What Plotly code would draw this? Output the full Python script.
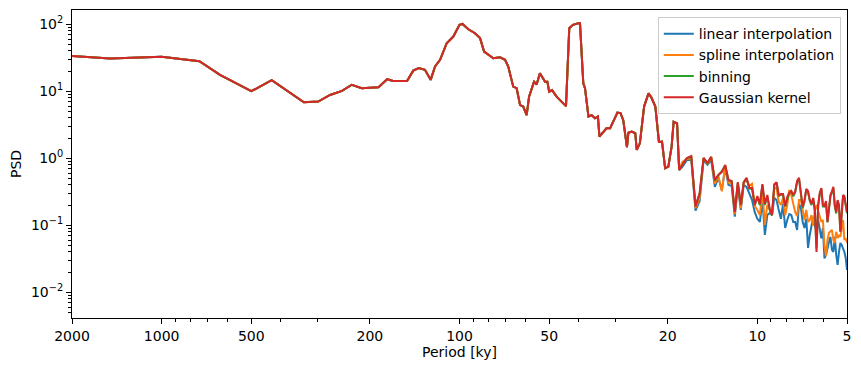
import math
import plotly.graph_objects as go

# ---- data ----
# shared low-frequency part (all four methods agree here)
period_common = [2000, 1491, 1000, 747, 637, 500, 427, 333, 298, 272, 248, 230, 213, 187,
                 175, 167, 150, 143, 137, 130.6, 125, 120.8, 116.2, 110.4, 104.9, 100, 97.7,
                 93.4, 88.7, 85.3, 82.7, 77, 73.1, 70.3, 68.6, 66, 64.3, 62.6, 61.1, 59.5,
                 58.4, 56.2, 55.1, 53.7, 51.6, 50.7, 50, 48.9, 47.2, 45.4, 43.9, 42.8, 41.6,
                 39.9, 39.4, 38.4, 37.9, 36.9, 36, 35.1, 34.3, 33.9, 32.7, 32.1, 31.2, 30.3,
                 29.5, 28.8, 28.2, 27.4, 27.1, 26.4, 25.7, 25.4, 24.8, 24.0, 23.2, 22.7, 22.0,
                 21.4, 20.9, 20.4, 19.9, 19.4, 19.1, 18.6, 18.3]
psd_common = [33.6, 30.7, 32.8, 28.0, 17.5, 10.0, 14.6, 6.85, 7.0, 8.8, 10.1, 12.5, 11.1, 11.5,
              15.1, 14.2, 14.2, 20.3, 22.2, 20.9, 14.8, 23.4, 29.4, 52, 65.5, 98, 101,
              84, 73.5, 62, 39, 31, 32, 29.4, 23.4, 11.7, 11.1, 6.2, 5.9, 4.4,
              8.3, 13.9, 12.6, 18.6, 13.9, 13.9, 9.85, 10.4, 8.3, 7.0, 6.0, 87, 98,
              103, 103, 13.1, 11.1, 4.2, 4.4, 3.95, 4.2, 2.1, 2.5, 2.8, 2.8, 3.7,
              4.8, 4.7, 3.7, 1.46, 2.4, 2.5, 2.36, 1.33, 1.67, 5.9, 9.3, 8.1, 5.9,
              1.75, 1.77, 0.71, 0.75, 1.49, 3.5, 3.3, 0.67]

# high-frequency part, where the methods differ (frequency in 1/ky)
tail_freq = [0.056, 0.058, 0.060, 0.062, 0.064, 0.066, 0.068, 0.070, 0.072, 0.074,
             0.076, 0.078, 0.080, 0.082, 0.084, 0.086, 0.088, 0.090, 0.092, 0.094,
             0.096, 0.098, 0.100, 0.102, 0.104, 0.106, 0.108, 0.110, 0.112, 0.114,
             0.116, 0.118, 0.120, 0.122, 0.124, 0.126, 0.128, 0.130, 0.132, 0.134,
             0.136, 0.138, 0.140, 0.142, 0.144, 0.146, 0.148, 0.150, 0.152, 0.154,
             0.156, 0.158, 0.160, 0.162, 0.164, 0.166, 0.168, 0.170, 0.172, 0.174,
             0.176, 0.178, 0.180, 0.182, 0.184, 0.186, 0.188, 0.190, 0.192, 0.194,
             0.196, 0.198, 0.200]
psd_linear_tail = [0.741, 0.943, 0.943, 0.165, 0.23, 0.943, 0.794, 0.943, 0.374, 0.51,
                   0.336, 0.716, 0.40, 0.387, 0.134, 0.387, 0.169, 0.40, 0.374, 0.293,
                   0.238, 0.157, 0.125, 0.112, 0.238, 0.0716, 0.142, 0.152, 0.142, 0.256,
                   0.238, 0.169, 0.125, 0.208, 0.091, 0.120, 0.147, 0.142, 0.112, 0.112,
                   0.085, 0.208, 0.181, 0.112, 0.091, 0.125, 0.046, 0.0716, 0.101, 0.134,
                   0.098, 0.085, 0.120, 0.080, 0.064, 0.091, 0.032, 0.036, 0.047, 0.0563,
                   0.0669, 0.0428, 0.040, 0.0669, 0.036, 0.0256, 0.040, 0.0544, 0.0508, 0.0457,
                   0.040, 0.0325, 0.0215]
psd_spline_tail = [0.881, 0.976, 1.01, 0.18, 0.256, 1.01, 0.822, 1.01, 0.414, 0.545,
                   0.32, 0.767, 0.43, 0.43, 0.147, 0.414, 0.178, 0.43, 0.474, 0.387,
                   0.414, 0.194, 0.169, 0.142, 0.336, 0.101, 0.201, 0.169, 0.147, 0.36,
                   0.36, 0.223, 0.201, 0.256, 0.142, 0.201, 0.336, 0.283, 0.201, 0.157,
                   0.137, 0.238, 0.238, 0.157, 0.120, 0.169, 0.112, 0.120, 0.142, 0.098,
                   0.169, 0.201, 0.169, 0.142, 0.112, 0.120, 0.0508, 0.0346, 0.0603, 0.0772,
                   0.080, 0.085, 0.0603, 0.0544, 0.080, 0.0641, 0.0716, 0.0669, 0.091, 0.120,
                   0.0603, 0.0641, 0.0544]
psd_binning_tail = [0.80, 1.0, 1.06, 0.2, 0.29, 1.0, 0.84, 1.04, 0.46, 0.56,
                    0.64, 0.78, 0.47, 0.45, 0.16, 0.43, 0.2, 0.43, 0.5, 0.35,
                    0.35, 0.2, 0.26, 0.2, 0.4, 0.2, 0.27, 0.17, 0.14, 0.4,
                    0.43, 0.27, 0.29, 0.28, 0.19, 0.25, 0.3, 0.32, 0.27, 0.31,
                    0.44, 0.5, 0.29, 0.18, 0.23, 0.34, 0.31, 0.23, 0.2, 0.25,
                    0.16, 0.045, 0.19, 0.29, 0.35, 0.19, 0.19, 0.22, 0.11, 0.16,
                    0.27, 0.31, 0.36, 0.19, 0.15, 0.23, 0.19, 0.08, 0.14, 0.27,
                    0.26, 0.2, 0.15]
psd_gauss_tail = [0.794, 1.01, 1.08, 0.19, 0.30, 1.01, 0.85, 1.05, 0.474, 0.563,
                  0.62, 0.794, 0.474, 0.458, 0.157, 0.44, 0.201, 0.44, 0.51, 0.36,
                  0.36, 0.201, 0.273, 0.208, 0.41, 0.208, 0.283, 0.178, 0.142, 0.41,
                  0.44, 0.283, 0.293, 0.293, 0.194, 0.264, 0.304, 0.326, 0.283, 0.32,
                  0.458, 0.51, 0.304, 0.188, 0.238, 0.35, 0.326, 0.238, 0.208, 0.256,
                  0.169, 0.040, 0.201, 0.304, 0.36, 0.201, 0.194, 0.23, 0.112, 0.169,
                  0.283, 0.32, 0.374, 0.201, 0.157, 0.238, 0.201, 0.080, 0.142, 0.283,
                  0.273, 0.212, 0.157]

series_names = ["linear interpolation", "spline interpolation", "binning", "Gaussian kernel"]
series_colors = ["#1f77b4", "#ff7f0e", "#2ca02c", "#d62728"]
series_tails = [psd_linear_tail, psd_spline_tail, psd_binning_tail, psd_gauss_tail]

x_tick_vals = [2000, 1000, 500, 200, 100, 50, 20, 10, 5]
y_tick_vals = [0.01, 0.1, 1, 10, 100]
y_tick_text = ["10<sup>\u22122</sup>", "10<sup>\u22121</sup>", "10<sup>0</sup>",
               "10<sup>1</sup>", "10<sup>2</sup>"]

# ---- figure ----
tail_period = [1.0 / f for f in tail_freq]
x_all = period_common + tail_period

fig = go.Figure()
for name, color, tail in zip(series_names, series_colors, series_tails):
    fig.add_trace(go.Scatter(x=x_all, y=psd_common + tail, mode="lines", name=name,
                             line=dict(color=color, width=2)))

x_minor = [k * 10 ** d for d in range(0, 4) for k in range(1, 10)
           if 5 <= k * 10 ** d <= 2000 and k * 10 ** d not in x_tick_vals]
y_minor = [k * 10.0 ** d for d in range(-3, 3) for k in range(2, 10)
           if 0.0041 <= k * 10.0 ** d <= 163]

FONT = "DejaVu Sans"
fig.update_layout(
    width=853, height=363,
    margin=dict(l=64, r=14, t=2, b=53),
    plot_bgcolor="white", paper_bgcolor="white",
    font=dict(family=FONT, size=14, color="black"),
    legend=dict(x=0.992, y=0.977, xanchor="right", yanchor="top",
                bordercolor="#cccccc", borderwidth=1, bgcolor="rgba(255,255,255,0.8)",
                font=dict(family=FONT, size=14, color="black")),
    xaxis=dict(type="log", range=[math.log10(2000), math.log10(5)],
               tickmode="array", tickvals=x_tick_vals, ticktext=[str(v) for v in x_tick_vals],
               tickfont=dict(family=FONT, size=14, color="black"),
               ticks="outside", ticklen=5, tickwidth=1, tickcolor="black",
               showline=True, linecolor="black", linewidth=1, mirror=True,
               showgrid=False, zeroline=False,
               minor=dict(tickmode="array", tickvals=x_minor, ticks="outside", ticklen=3,
                          tickwidth=1, tickcolor="black", showgrid=False),
               title=dict(text="Period [ky]", standoff=4,
                          font=dict(family=FONT, size=14, color="black"))),
    yaxis=dict(type="log", range=[math.log10(0.00413), math.log10(163)],
               tickmode="array", tickvals=y_tick_vals, ticktext=y_tick_text,
               tickfont=dict(family=FONT, size=14, color="black"),
               ticks="outside", ticklen=5, tickwidth=1, tickcolor="black",
               showline=True, linecolor="black", linewidth=1, mirror=True,
               showgrid=False, zeroline=False,
               minor=dict(tickmode="array", tickvals=y_minor, ticks="outside", ticklen=3,
                          tickwidth=1, tickcolor="black", showgrid=False),
               title=dict(text="PSD", standoff=8,
                          font=dict(family=FONT, size=14, color="black"))),
)

fig.write_html("out.html")
